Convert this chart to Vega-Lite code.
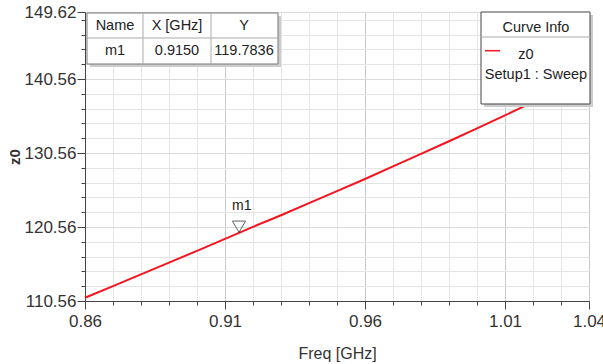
{
  "$schema": "https://vega.github.io/schema/vega-lite/v6.json",
  "width": 504,
  "height": 289,
  "autosize": {"type": "none"},
  "padding": {"left": 85, "top": 12, "right": 14, "bottom": 63},
  "background": "white",
  "config": {
    "view": {"stroke": "#555555", "strokeWidth": 1},
    "font": "Liberation Sans"
  },
  "datasets": {
    "curve": [
      {"f": 0.86, "z0": 111.0},
      {"f": 0.87, "z0": 112.57},
      {"f": 0.88, "z0": 114.15},
      {"f": 0.89, "z0": 115.74},
      {"f": 0.90, "z0": 117.34},
      {"f": 0.91, "z0": 118.96},
      {"f": 0.92, "z0": 120.58},
      {"f": 0.93, "z0": 122.15},
      {"f": 0.94, "z0": 123.78},
      {"f": 0.95, "z0": 125.40},
      {"f": 0.96, "z0": 127.05},
      {"f": 0.97, "z0": 128.75},
      {"f": 0.98, "z0": 130.45},
      {"f": 0.99, "z0": 132.15},
      {"f": 1.00, "z0": 133.90},
      {"f": 1.01, "z0": 135.65},
      {"f": 1.02, "z0": 137.45},
      {"f": 1.03, "z0": 139.25},
      {"f": 1.04, "z0": 141.05}
    ],
    "one": [{"k": 1}]
  },
  "resolve": {"axis": {"x": "independent", "y": "independent"}},
  "layer": [
    {
      "data": {"name": "curve"},
      "mark": {"type": "point", "opacity": 0},
      "encoding": {
        "x": {
          "field": "f",
          "type": "quantitative",
          "scale": {"domain": [0.86, 1.04], "nice": false, "zero": false},
          "axis": {
            "orient": "bottom",
            "title": null,
            "values": [0.87, 0.88, 0.89, 0.90, 0.92, 0.93, 0.94, 0.95, 0.97, 0.98, 0.99, 1.00, 1.02, 1.03],
            "labels": false,
            "domain": false,
            "tickColor": "#444444",
            "tickSize": 4,
            "grid": true,
            "gridColor": "#e6e6e6",
            "gridWidth": 1
          }
        },
        "y": {
          "field": "z0",
          "type": "quantitative",
          "scale": {"domain": [110.56, 149.62], "nice": false, "zero": false},
          "axis": {
            "orient": "left",
            "title": null,
            "values": [112.56, 114.56, 116.56, 118.56, 122.56, 124.56, 126.56, 128.56, 132.56, 134.56, 136.56, 138.56, 142.56, 144.56, 146.56, 148.56],
            "labels": false,
            "domain": false,
            "tickColor": "#444444",
            "tickSize": 4,
            "grid": true,
            "gridColor": "#e4e4e4",
            "gridWidth": 1
          }
        }
      }
    },
    {
      "data": {"name": "curve"},
      "mark": {"type": "line", "color": "#f5141e", "strokeWidth": 2},
      "encoding": {
        "x": {
          "field": "f",
          "type": "quantitative",
          "axis": {
            "orient": "bottom",
            "title": "Freq [GHz]",
            "titleFont": "Liberation Sans",
            "titleFontSize": 16,
            "titleFontWeight": "normal",
            "titleColor": "#333333",
            "titleY": 52,
            "titleBaseline": "middle",
            "values": [0.86, 0.91, 0.96, 1.01, 1.04],
            "format": ".2f",
            "labelFont": "Liberation Sans",
            "labelFontSize": 17,
            "labelColor": "#333333",
            "labelPadding": 4,
            "labelOverlap": false,
            "labelBound": false,
            "labelFlush": false,
            "domainColor": "#444444",
            "tickColor": "#444444",
            "tickSize": 8,
            "grid": true,
            "gridColor": "#c8c8c8",
            "gridWidth": 1
          }
        },
        "y": {
          "field": "z0",
          "type": "quantitative",
          "axis": {
            "orient": "left",
            "title": "z0",
            "titleFont": "Liberation Sans",
            "titleFontSize": 15,
            "titleFontWeight": "bold",
            "titleColor": "#333333",
            "titleX": -71,
            "titleY": 144.5,
            "titleAngle": -90,
            "titleBaseline": "middle",
            "values": [110.56, 120.56, 130.56, 140.56, 149.62],
            "format": ".2f",
            "labelFont": "Liberation Sans",
            "labelFontSize": 17,
            "labelColor": "#333333",
            "labelPadding": 1,
            "labelOverlap": false,
            "labelBound": false,
            "labelFlush": false,
            "domainColor": "#444444",
            "tickColor": "#444444",
            "tickSize": 8,
            "grid": true,
            "gridColor": "#dadada",
            "gridWidth": 1
          }
        }
      }
    },
    {
      "data": {"name": "one"},
      "mark": {"type": "point", "shape": "triangle-down", "filled": false, "stroke": "#222222", "strokeWidth": 1, "size": 170},
      "encoding": {"x": {"datum": 0.915, "axis": null}, "y": {"datum": 120.6, "axis": null}}
    },
    {
      "data": {"name": "one"},
      "mark": {"type": "text", "fontSize": 14, "align": "center", "baseline": "middle", "fill": "#222222"},
      "encoding": {"x": {"datum": 0.91596, "axis": null}, "y": {"datum": 123.4, "axis": null}, "text": {"value": "m1"}}
    },
    {
      "data": {"name": "one"},
      "mark": {"type": "rect", "fill": "#cccccc"},
      "encoding": {"x": {"datum": 0.86179, "axis": null}, "x2": {"datum": 0.93}, "y": {"datum": 149.08, "axis": null}, "y2": {"datum": 142.19}}
    },
    {
      "data": {"name": "one"},
      "mark": {"type": "rect", "fill": "white", "stroke": "#777777", "strokeWidth": 1},
      "encoding": {"x": {"datum": 0.86071, "axis": null}, "x2": {"datum": 0.92893}, "y": {"datum": 149.485, "axis": null}, "y2": {"datum": 142.59}}
    },
    {
      "data": {"name": "one"},
      "mark": {"type": "rule", "stroke": "#aaaaaa", "strokeWidth": 1},
      "encoding": {"x": {"datum": 0.86071, "axis": null}, "x2": {"datum": 0.92893}, "y": {"datum": 146.106, "axis": null}}
    },
    {
      "data": {"name": "one"},
      "mark": {"type": "rule", "stroke": "#aaaaaa", "strokeWidth": 1},
      "encoding": {"x": {"datum": 0.88071, "axis": null}, "y": {"datum": 149.485, "axis": null}, "y2": {"datum": 142.59}}
    },
    {
      "data": {"name": "one"},
      "mark": {"type": "rule", "stroke": "#aaaaaa", "strokeWidth": 1},
      "encoding": {"x": {"datum": 0.905, "axis": null}, "y": {"datum": 149.485, "axis": null}, "y2": {"datum": 142.59}}
    },
    {
      "data": {"name": "one"},
      "mark": {"type": "text", "fontSize": 14.5, "align": "center", "baseline": "middle", "fill": "#222222"},
      "encoding": {"x": {"datum": 0.87071, "axis": null}, "y": {"datum": 147.73, "axis": null}, "text": {"value": "Name"}}
    },
    {
      "data": {"name": "one"},
      "mark": {"type": "text", "fontSize": 14.5, "align": "center", "baseline": "middle", "fill": "#222222"},
      "encoding": {"x": {"datum": 0.89286, "axis": null}, "y": {"datum": 147.73, "axis": null}, "text": {"value": "X [GHz]"}}
    },
    {
      "data": {"name": "one"},
      "mark": {"type": "text", "fontSize": 14.5, "align": "center", "baseline": "middle", "fill": "#222222"},
      "encoding": {"x": {"datum": 0.91679, "axis": null}, "y": {"datum": 147.73, "axis": null}, "text": {"value": "Y"}}
    },
    {
      "data": {"name": "one"},
      "mark": {"type": "text", "fontSize": 14.5, "align": "center", "baseline": "middle", "fill": "#222222"},
      "encoding": {"x": {"datum": 0.87071, "axis": null}, "y": {"datum": 144.35, "axis": null}, "text": {"value": "m1"}}
    },
    {
      "data": {"name": "one"},
      "mark": {"type": "text", "fontSize": 14.5, "align": "center", "baseline": "middle", "fill": "#222222"},
      "encoding": {"x": {"datum": 0.89286, "axis": null}, "y": {"datum": 144.35, "axis": null}, "text": {"value": "0.9150"}}
    },
    {
      "data": {"name": "one"},
      "mark": {"type": "text", "fontSize": 14.5, "align": "center", "baseline": "middle", "fill": "#222222"},
      "encoding": {"x": {"datum": 0.91679, "axis": null}, "y": {"datum": 144.35, "axis": null}, "text": {"value": "119.7836"}}
    },
    {
      "data": {"name": "one"},
      "mark": {"type": "rect", "fill": "#cccccc"},
      "encoding": {"x": {"datum": 1.0025, "axis": null}, "x2": {"datum": 1.04143}, "y": {"datum": 149.21, "axis": null}, "y2": {"datum": 136.78}}
    },
    {
      "data": {"name": "one"},
      "mark": {"type": "rect", "fill": "white", "stroke": "#444444", "strokeWidth": 1},
      "encoding": {"x": {"datum": 1.00143, "axis": null}, "x2": {"datum": 1.04036}, "y": {"datum": 149.62, "axis": null}, "y2": {"datum": 137.186}}
    },
    {
      "data": {"name": "one"},
      "mark": {"type": "rule", "stroke": "#aaaaaa", "strokeWidth": 1},
      "encoding": {"x": {"datum": 1.00143, "axis": null}, "x2": {"datum": 1.04036}, "y": {"datum": 146.24, "axis": null}}
    },
    {
      "data": {"name": "one"},
      "mark": {"type": "rule", "stroke": "#f5141e", "strokeWidth": 1.5},
      "encoding": {"x": {"datum": 1.00286, "axis": null}, "x2": {"datum": 1.00821}, "y": {"datum": 144.39, "axis": null}}
    },
    {
      "data": {"name": "one"},
      "mark": {"type": "text", "fontSize": 14.5, "align": "center", "baseline": "middle", "fill": "#222222"},
      "encoding": {"x": {"datum": 1.02107, "axis": null}, "y": {"datum": 147.46, "axis": null}, "text": {"value": "Curve Info"}}
    },
    {
      "data": {"name": "one"},
      "mark": {"type": "text", "fontSize": 14.5, "align": "center", "baseline": "middle", "fill": "#222222"},
      "encoding": {"x": {"datum": 1.0175, "axis": null}, "y": {"datum": 143.81, "axis": null}, "text": {"value": "z0"}}
    },
    {
      "data": {"name": "one"},
      "mark": {"type": "text", "fontSize": 14.5, "align": "center", "baseline": "middle", "fill": "#222222"},
      "encoding": {"x": {"datum": 1.02107, "axis": null}, "y": {"datum": 141.1, "axis": null}, "text": {"value": "Setup1 : Sweep"}}
    }
  ]
}
